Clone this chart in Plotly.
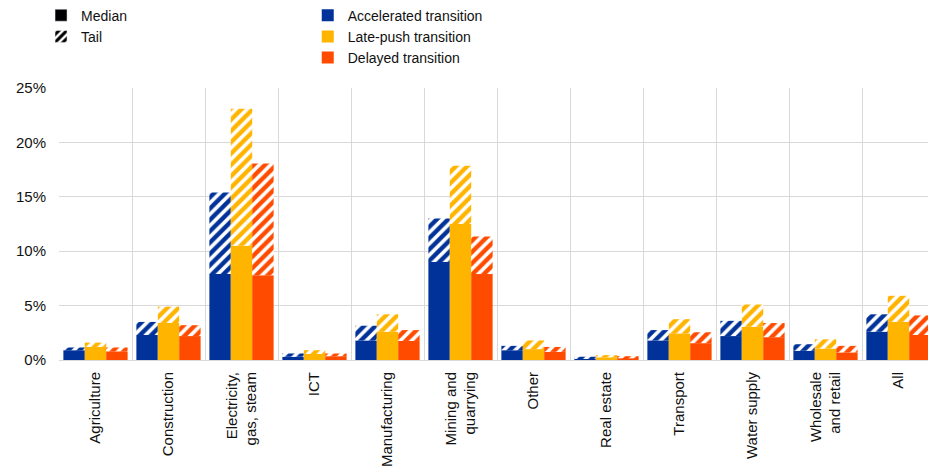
import plotly.graph_objects as go

categories = ["Agriculture", "Construction", "Electricity,<br>gas, steam", "ICT", "Manufacturing",
              "Mining and<br>quarrying", "Other", "Real estate", "Transport", "Water supply",
              "Wholesale<br>and retail", "All"]

scenarios = ["Accelerated transition", "Late-push transition", "Delayed transition"]
colors = ["#003299", "#FFB400", "#FF4B00"]

# Median values (%)
median_accel = [0.9, 2.3, 7.9, 0.3, 1.8, 9.0, 0.9, 0.15, 1.8, 2.2, 0.85, 2.6]
median_late  = [1.2, 3.4, 10.5, 0.55, 2.6, 12.5, 1.0, 0.25, 2.45, 3.05, 1.05, 3.5]
median_delay = [0.8, 2.2, 7.8, 0.35, 1.75, 7.9, 0.75, 0.15, 1.55, 2.1, 0.7, 2.3]

# Tail values (total height, %)
tail_accel = [1.15, 3.5, 15.4, 0.6, 3.15, 13.0, 1.3, 0.3, 2.75, 3.6, 1.45, 4.2]
tail_late  = [1.6, 4.9, 23.1, 0.9, 4.2, 17.85, 1.8, 0.45, 3.75, 5.1, 1.9, 5.9]
tail_delay = [1.15, 3.2, 18.05, 0.6, 2.75, 11.35, 1.2, 0.35, 2.55, 3.4, 1.3, 4.1]

medians = [median_accel, median_late, median_delay]
tails = [tail_accel, tail_late, tail_delay]

fig = go.Figure()

# legend 1 dummies
fig.add_trace(go.Bar(x=[categories[0]], y=[None], name="Median", marker_color="black",
                     legend="legend", showlegend=True, hoverinfo="skip"))
fig.add_trace(go.Bar(x=[categories[0]], y=[None], name="Tail", marker=dict(color="black",
                     pattern=dict(shape="/", bgcolor="white", fgcolor="black", size=7, solidity=0.55,
                                  fillmode="replace")),
                     legend="legend", showlegend=True, hoverinfo="skip"))

for i, s in enumerate(scenarios):
    fig.add_trace(go.Bar(x=categories, y=medians[i], name=s, marker_color=colors[i],
                         marker_line_width=0, offsetgroup=str(i), legend="legend2"))
    tail_h = [t - m for t, m in zip(tails[i], medians[i])]
    fig.add_trace(go.Bar(x=categories, y=tail_h, base=medians[i], name=s + " tail",
                         marker=dict(color=colors[i], line_width=0,
                                     pattern=dict(shape="/", bgcolor="white", fgcolor=colors[i],
                                                  size=8, solidity=0.55, fillmode="replace")),
                         offsetgroup=str(i), showlegend=False, legend="legend2"))

font = dict(family="Liberation Sans, Arial, sans-serif", size=15, color="#111111")
lfont = dict(family="Liberation Sans, Arial, sans-serif", size=14, color="#111111")

# page has an 8px body margin, so the figure is sized to fit the 936x473 window
fig.update_layout(
    width=928, height=465,
    margin=dict(l=51, r=1, t=80, b=113, autoexpand=False),
    paper_bgcolor="white", plot_bgcolor="white",
    barmode="group", bargap=0.12, bargroupgap=0,
    font=font,
    legend=dict(xref="container", yref="paper", x=0.0356, y=1.325, xanchor="left", yanchor="top",
                font=lfont, bgcolor="rgba(0,0,0,0)", tracegroupgap=0, itemwidth=30),
    legend2=dict(xref="container", yref="paper", x=0.323, y=1.325, xanchor="left", yanchor="top",
                 font=lfont, bgcolor="rgba(0,0,0,0)", tracegroupgap=0, itemwidth=30),
)

fig.update_xaxes(type="category", tickangle=-90, showgrid=True, gridcolor="#d9d9d9", gridwidth=1,
                 tickson="boundaries", ticks="", showline=True, linecolor="#d9d9d9", linewidth=1,
                 mirror=False, tickfont=font, ticklabelstandoff=5)
fig.update_yaxes(range=[0, 25], dtick=5, ticksuffix="%", showgrid=True, gridcolor="#d9d9d9",
                 gridwidth=1, zeroline=False, showline=False, ticks="", tickfont=font,
                 ticklabelstandoff=12)

fig.write_html("out.html")
